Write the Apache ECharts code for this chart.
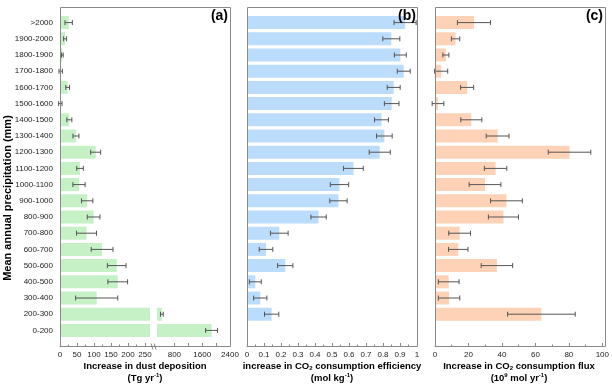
<!DOCTYPE html>
<html><head><meta charset="utf-8">
<script src="https://cdn.jsdelivr.net/npm/echarts@6/dist/echarts.min.js"></script>
<style>html,body{margin:0;padding:0;background:#fff}#c{width:612px;height:390px}</style>
</head><body><div id="c"></div>
<script>
// categories bottom -> top
const categories = ['0-200','200-300','300-400','400-500','500-600','600-700','700-800','800-900','900-1000','1000-1100','1100-1200','1200-1300','1300-1400','1400-1500','1500-1600','1600-1700','1700-1800','1800-1900','1900-2000','>2000'];
// (a) increase in dust deposition (Tg/yr) and error half-widths
const dust    = [1870, 440, 108, 170, 167, 124, 78, 99, 80, 56, 59, 105, 47, 27.5, 1, 22.5, 2, 7, 15, 25.5];
const dustErr = [172, 40, 62, 29, 27.5, 32, 29.4, 18.6, 16.7, 18, 9.8, 14.7, 8.8, 7.4, 5, 5.4, 5, 2.5, 4.4, 10.8];
// (b) increase in CO2 consumption efficiency (mol/kg)
const eff    = [null, 0.145, 0.078, 0.049, 0.225, 0.112, 0.190, 0.421, 0.538, 0.544, 0.626, 0.781, 0.808, 0.791, 0.851, 0.863, 0.922, 0.902, 0.849, 0.93];
const effErr = [null, 0.042, 0.039, 0.035, 0.045, 0.040, 0.052, 0.045, 0.051, 0.054, 0.058, 0.062, 0.046, 0.041, 0.043, 0.038, 0.038, 0.035, 0.05, 0.065];
// (c) increase in CO2 consumption flux (1e9 mol/yr)
const flux    = [null, 63.6, 8.4, 8.2, 37.0, 13.9, 14.7, 40.9, 42.7, 29.9, 36.2, 80.4, 37.4, 21.7, 1.8, 19.2, 3.7, 6.5, 12.3, 23.3];
const fluxErr = [null, 20.2, 6.4, 6.2, 9.4, 5.8, 6.5, 9, 9.5, 9.5, 6.7, 12.7, 6.8, 6.3, 3.5, 3.9, 3.9, 1.8, 2.5, 9.9];
// axis ticks
const dustLeftTicks = [0, 50, 100, 150, 200, 250];
const dustRightTicks = [800, 1600, 2400];
const dustRightMinor = [800, 1200, 1600, 2000, 2400];

const LEFT_MAX = 265, RIGHT_MIN = 300;
const FONT = 'Liberation Sans, Arial, sans-serif';
const AX = '#8a8a8a', ERR = '#555';
const TOP = 14.5, H = 324, OFF = 7.5;
const plain = v => String(v);

function errData(vals, errs, filter) {
  const out = [];
  vals.forEach((v, i) => {
    if (v == null || errs[i] == null) return;
    if (filter && !filter(v)) return;
    out.push([v - errs[i], v + errs[i], i]);
  });
  return out;
}
function errItem(params, api) {
  const lo = api.value(0), hi = api.value(1), y = api.value(2);
  const p1 = api.coord([lo, y]), p2 = api.coord([hi, y]);
  const h = 2.5, st = {stroke: ERR, lineWidth: 1};
  return {type: 'group', children: [
    {type: 'line', shape: {x1: p1[0], y1: p1[1], x2: p2[0], y2: p2[1]}, style: st},
    {type: 'line', shape: {x1: p1[0], y1: p1[1] - h, x2: p1[0], y2: p1[1] + h}, style: st},
    {type: 'line', shape: {x1: p2[0], y1: p2[1] - h, x2: p2[0], y2: p2[1] + h}, style: st}
  ]};
}
function yAx(gi, showLabels) {
  return {type: 'category', gridIndex: gi, data: categories,
    axisLine: {show: false}, axisTick: {show: false},
    axisLabel: {show: showLabels, fontSize: 8, color: '#222', fontFamily: FONT, margin: 7}};
}
function xAx(gi, opts) {
  return Object.assign({type: 'value', gridIndex: gi, offset: OFF,
    axisLine: {show: true, lineStyle: {color: AX, width: 1}},
    axisTick: {show: true, inside: true, length: 3, lineStyle: {color: AX}},
    minorTick: {show: true, splitNumber: 2, length: 1.5, lineStyle: {color: AX}},
    splitLine: {show: false},
    axisLabel: {fontSize: 8, color: '#222', fontFamily: FONT, margin: 5, formatter: plain}}, opts);
}
const common = {type: 'bar', barWidth: 13, animation: false};

const option = {
  animation: false,
  grid: [
    {left: 60, top: TOP, width: 90, height: H},
    {left: 157, top: TOP, width: 73, height: H},
    {left: 247, top: TOP, width: 170, height: H},
    {left: 435, top: TOP, width: 170, height: H}
  ],
  xAxis: [
    xAx(0, {min: 0, max: LEFT_MAX, interval: 50,
      axisTick: {show: true, inside: true, length: 3, lineStyle: {color: AX}, customValues: dustLeftTicks},
      axisLabel: {fontSize: 8, color: '#222', fontFamily: FONT, margin: 5, customValues: dustLeftTicks, formatter: plain}}),
    xAx(1, {min: RIGHT_MIN, max: 2400, minorTick: {show: false},
      axisTick: {show: true, inside: true, length: 3, lineStyle: {color: AX}, customValues: dustRightMinor},
      axisLabel: {fontSize: 8, color: '#222', fontFamily: FONT, margin: 5, customValues: dustRightTicks, formatter: plain}}),
    xAx(2, {min: 0, max: 1, interval: 0.1}),
    xAx(3, {min: 0, max: 100, interval: 20})
  ],
  yAxis: [yAx(0, true), yAx(1, false), yAx(2, false), yAx(3, false)],
  series: [
    Object.assign({}, common, {xAxisIndex: 0, yAxisIndex: 0, data: dust, itemStyle: {color: '#c6f0c6'}}),
    Object.assign({}, common, {xAxisIndex: 1, yAxisIndex: 1, data: dust.map(v => v > RIGHT_MIN ? v : null), itemStyle: {color: '#c6f0c6'}}),
    Object.assign({}, common, {xAxisIndex: 2, yAxisIndex: 2, data: eff, itemStyle: {color: '#bbdcfb'}}),
    Object.assign({}, common, {xAxisIndex: 3, yAxisIndex: 3, data: flux, itemStyle: {color: '#fdd2b6'}}),
    {type: 'custom', xAxisIndex: 0, yAxisIndex: 0, renderItem: errItem, encode: {x: [0, 1], y: 2}, data: errData(dust, dustErr, v => v < LEFT_MAX), z: 5},
    {type: 'custom', xAxisIndex: 1, yAxisIndex: 1, renderItem: errItem, encode: {x: [0, 1], y: 2}, data: errData(dust, dustErr, v => v > RIGHT_MIN), z: 5},
    {type: 'custom', xAxisIndex: 2, yAxisIndex: 2, renderItem: errItem, encode: {x: [0, 1], y: 2}, data: errData(eff, effErr), z: 5},
    {type: 'custom', xAxisIndex: 3, yAxisIndex: 3, renderItem: errItem, encode: {x: [0, 1], y: 2}, data: errData(flux, fluxErr), z: 5}
  ],
  graphic: [
    // panel frames
    {type: 'rect', shape: {x: 60.5, y: 7.5, width: 170, height: 339}, style: {fill: 'none', stroke: AX, lineWidth: 1}, z: 100},
    {type: 'rect', shape: {x: 247.5, y: 7.5, width: 170, height: 339}, style: {fill: 'none', stroke: AX, lineWidth: 1}, z: 100},
    {type: 'rect', shape: {x: 435.5, y: 7.5, width: 170, height: 339}, style: {fill: 'none', stroke: AX, lineWidth: 1}, z: 100},
    // axis break marks
    {type: 'line', shape: {x1: 151, y1: 343.5, x2: 153, y2: 349.5}, style: {stroke: '#666', lineWidth: 0.8}, z: 101},
    {type: 'line', shape: {x1: 154, y1: 343.5, x2: 156, y2: 349.5}, style: {stroke: '#666', lineWidth: 0.8}, z: 101},
    // panel letters
    {type: 'text', style: {text: '(a)', x: 228, y: 16, align: 'right', verticalAlign: 'middle', font: 'bold 14px ' + FONT, fill: '#000'}, z: 102},
    {type: 'text', style: {text: '(b)', x: 416, y: 16, align: 'right', verticalAlign: 'middle', font: 'bold 14px ' + FONT, fill: '#000'}, z: 102},
    {type: 'text', style: {text: '(c)', x: 603, y: 16, align: 'right', verticalAlign: 'middle', font: 'bold 14px ' + FONT, fill: '#000'}, z: 102},
    // y title
    {type: 'text', x: 8, y: 198, rotation: Math.PI / 2,
      style: {text: 'Mean annual precipitation (mm)', x: 0, y: 0, align: 'center', verticalAlign: 'middle', font: 'bold 11px ' + FONT, fill: '#000'}},
    // x titles
    {type: 'text', style: {text: 'Increase in dust deposition', x: 145, y: 366, align: 'center', verticalAlign: 'middle', font: 'bold 9.5px ' + FONT, fill: '#000'}},
    {type: 'text', style: {text: '{t|(Tg yr}{p|-1}{t|)}', x: 145, y: 378, align: 'center', verticalAlign: 'middle',
      rich: {t: {font: 'bold 9.5px ' + FONT, fill: '#000', lineHeight: 11}, p: {font: 'bold 6px ' + FONT, fill: '#000', verticalAlign: 'top', lineHeight: 11}}}},
    {type: 'text', style: {text: '{t|increase in CO}{s|2}{t| consumption efficiency}', x: 332, y: 366, align: 'center', verticalAlign: 'middle',
      rich: {t: {font: 'bold 9.5px ' + FONT, fill: '#000', lineHeight: 11}, s: {font: 'bold 6px ' + FONT, fill: '#000', verticalAlign: 'bottom', lineHeight: 11}}}},
    {type: 'text', style: {text: '{t|(mol kg}{p|-1}{t|)}', x: 332, y: 378, align: 'center', verticalAlign: 'middle',
      rich: {t: {font: 'bold 9.5px ' + FONT, fill: '#000', lineHeight: 11}, p: {font: 'bold 6px ' + FONT, fill: '#000', verticalAlign: 'top', lineHeight: 11}}}},
    {type: 'text', style: {text: '{t|Increase in CO}{s|2}{t| consumption flux}', x: 519, y: 366, align: 'center', verticalAlign: 'middle',
      rich: {t: {font: 'bold 9.5px ' + FONT, fill: '#000', lineHeight: 11}, s: {font: 'bold 6px ' + FONT, fill: '#000', verticalAlign: 'bottom', lineHeight: 11}}}},
    {type: 'text', style: {text: '{t|(10}{p|9}{t| mol yr}{p|-1}{t|)}', x: 519, y: 378, align: 'center', verticalAlign: 'middle',
      rich: {t: {font: 'bold 9.5px ' + FONT, fill: '#000', lineHeight: 11}, p: {font: 'bold 6px ' + FONT, fill: '#000', verticalAlign: 'top', lineHeight: 11}}}}
  ]
};
const chart = echarts.init(document.getElementById('c'), null, {renderer: 'canvas'});
chart.setOption(option);
</script></body></html>
